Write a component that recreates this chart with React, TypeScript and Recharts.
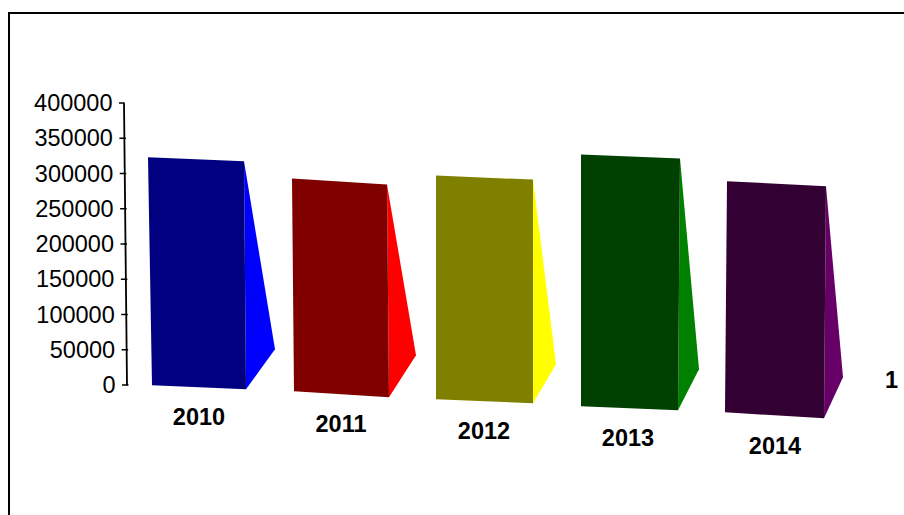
import React from "react";
import { BarChart, Bar, XAxis, YAxis, Legend } from "recharts";

const years = ["2010", "2011", "2012", "2013", "2014"];
const values = [323000, 293000, 297000, 327000, 289000];
const yTicks = [0, 50000, 100000, 150000, 200000, 250000, 300000, 350000, 400000];

const frontColors = ["#000080", "#800000", "#808000", "#004000", "#330033"];
const sideColors = ["#0000ff", "#ff0000", "#ffff00", "#008000", "#660066"];

// fake perspective, all px relative to the rectangle Recharts hands to the shape
const baseDrop = [0.3, 6.3, 14.3, 21.3, 27.3];
const topLeftDx = [-3, -3, -3, -2, 0];
const topRightDx = [-4, -5, -3, 0, 2];
const botLeftDx = [1, -1, -3, -2, -2];
const botRightDx = [-2, -3, -3, -2, 0];
const topTilt = [4, 6, 4, 4, 5];
const botTilt = [4, 6, 4, 4, 6];
const sideDx = [29, 27, 23, 21, 19];
const sideDy = [40, 42, 39, 41, 41];
const labelDx = [0, -2, -3, -3, 0];
const labelDrop = [0, 7, 14, 21, 29];

const FONT = "'Liberation Sans', Arial, sans-serif";
const FONT_SIZE = 23.5;
const TICK_STEP = 281 / 8;
const AXIS_LEAN = 3 / 8;

const data = years.map((year, i) => ({ year, value: values[i] }));

function PrismBar(props: any) {
	const { x, y, width, height, index: i } = props;
	const base = y + height + baseDrop[i];
	const right = x + width;
	const tl = [x + topLeftDx[i], y];
	const tr = [right + topRightDx[i], y + topTilt[i]];
	const bl = [x + botLeftDx[i], base];
	const br = [right + botRightDx[i], base + botTilt[i]];
	const far = [br[0] + sideDx[i], br[1] - sideDy[i]];
	return (
		<g>
			<polygon points={[tr, far, br].join(" ")} fill={sideColors[i]} />
			<polygon points={[tl, tr, br, bl].join(" ")} fill={frontColors[i]} />
		</g>
	);
}

function ValueTick(props: any) {
	const { x, y, payload, index } = props;
	const axisX = x + 8 - index * AXIS_LEAN;
	return (
		<g>
			<text
				x={axisX - 11.5}
				y={y + 8}
				textAnchor="end"
				fontFamily={FONT}
				fontSize={FONT_SIZE}
				fill="#000"
			>
				{payload.value}
			</text>
			<line x1={axisX - 5} x2={axisX + (index === 8 ? 0 : 1.5)} y1={y} y2={y} stroke="#000" strokeWidth={1.5} />
			{index < 8 && (
				<line
					x1={axisX}
					y1={y + 0.5}
					x2={axisX - AXIS_LEAN}
					y2={y - TICK_STEP - 0.5}
					stroke="#000"
					strokeWidth={1.8}
				/>
			)}
		</g>
	);
}

function YearTick(props: any) {
	const { x, y, payload, index } = props;
	return (
		<text
			x={x + labelDx[index]}
			y={y + 32 + labelDrop[index]}
			textAnchor="middle"
			fontFamily={FONT}
			fontSize={FONT_SIZE}
			fontWeight="bold"
			fill="#000"
		>
			{payload.value}
		</text>
	);
}

function SeriesKey(props: any) {
	const name = props.payload?.[0]?.value;
	return <span style={{ fontFamily: FONT, fontSize: FONT_SIZE, fontWeight: "bold", color: "#000" }}>{name}</span>;
}

export default function App() {
	return (
		<div style={{ position: "absolute", left: 0, top: 0, width: 904, height: 515, overflow: "hidden", background: "#fff" }}>
			<div
				style={{
					position: "absolute",
					left: 8,
					top: 12,
					width: 1000,
					height: 1000,
					border: "2px solid #000",
				}}
			/>
			<div style={{ position: "absolute", left: 0, top: 0 }}>
				<BarChart
					width={904}
					height={515}
					data={data}
					margin={{ top: 103, right: 57, bottom: 0, left: 0 }}
					barSize={97}
				>
					<XAxis
						dataKey="year"
						axisLine={false}
						tickLine={false}
						height={103}
						interval={0}
						tick={<YearTick />}
					/>
					<YAxis
						width={127}
						domain={[0, 400000]}
						ticks={yTicks}
						interval={0}
						axisLine={false}
						tickLine={false}
						tick={<ValueTick />}
					/>
					<Legend
						content={<SeriesKey />}
						wrapperStyle={{ position: "absolute", left: 885, top: 367, width: "auto", bottom: "auto" }}
					/>
					<Bar dataKey="value" name="1" isAnimationActive={false} shape={<PrismBar />} />
				</BarChart>
			</div>
		</div>
	);
}
